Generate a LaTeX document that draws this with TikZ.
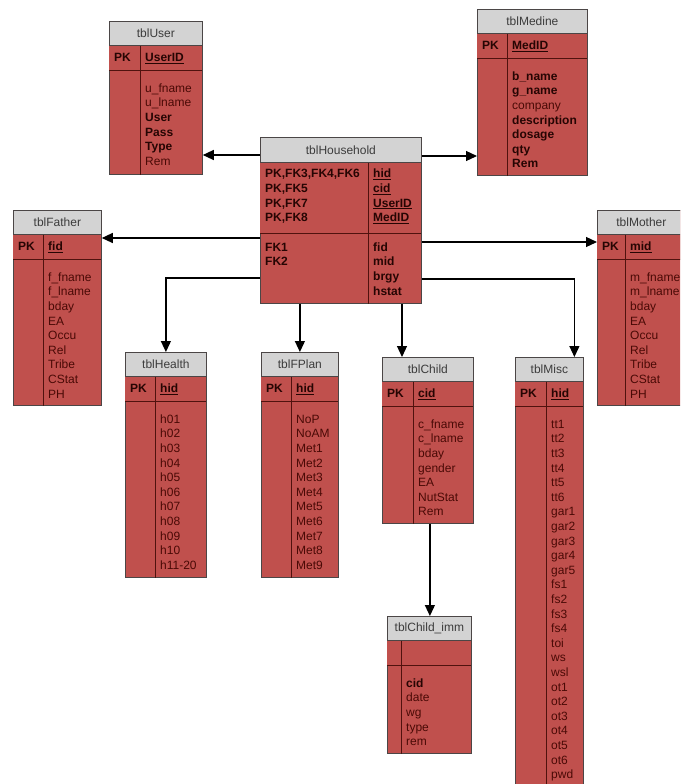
\documentclass[tikz,border=0pt]{standalone}
\usepackage{fontspec}
\setmainfont{Liberation Sans}
\usepackage{xcolor}
\usetikzlibrary{arrows.meta}

\definecolor{tblred}{RGB}{192,80,77}
\definecolor{headgray}{RGB}{211,211,211}
\definecolor{edgegray}{RGB}{75,70,70}
\definecolor{divred}{RGB}{80,18,14}
\definecolor{fieldred}{RGB}{74,10,6}
\definecolor{keyred}{RGB}{38,5,3}
\definecolor{headtext}{RGB}{60,60,60}

\newcommand{\bfld}[1]{{\bfseries\color{keyred}#1}}

% one table: name, x, y, width, height, key column, title, key, fields
\newcommand{\dbtable}[9]{%
  \node[tablebox, minimum width=#4pt, minimum height=#5pt] (#1) at (#2,#3) {};
  \node[tablehead, minimum width=#4pt] (#1h) at (#1.north west) {#7};
  \node[pkrow, minimum width=#4pt] (#1k) at (#1h.south west) {};
  \draw[coldiv] (#1k.south west) -- (#1k.south east);
  \draw[coldiv] ([xshift=#6pt]#1k.north west) -- ([xshift=#6pt]#1.south west);
  \node[field] (#1p) at ([xshift=5pt, yshift=-16pt]#1k.north west) {\bfld{PK}};
  \node[field] (#1i) at ([xshift=#6pt+5pt, yshift=-16pt]#1k.north west) {\bfld{\underline{#8}}};
  \foreach \f [count=\i from 0] in {#9}
    \node[field] (#1f\i) at ([xshift=#6pt+5pt, yshift=-22pt-\i*14.6pt]#1k.south west) {\f};
}

\begin{document}
\begin{tikzpicture}[x=1pt, y=-1pt,
    font=\fontsize{12}{14.6}\selectfont,
    tablebox/.style={draw=edgegray, fill=tblred, anchor=north west, inner sep=0pt, line width=0.8pt},
    tablehead/.style={draw=edgegray, fill=headgray, anchor=north west, inner sep=0pt,
      minimum height=24pt, text=headtext, line width=0.8pt},
    pkrow/.style={fill=tblred, anchor=north west, inner sep=0pt, minimum height=24pt},
    coldiv/.style={draw=divred, line width=0.9pt},
    field/.style={anchor=base west, inner sep=0pt, text=fieldred},
    fkarrow/.style={draw=black, line width=1.2pt, -{Triangle[length=11pt,width=10pt]}}]
  \useasboundingbox (0,0) rectangle (680,784);
  \clip (0,0) rectangle (680,784);
  \fill[white] (0,0) rectangle (680,784);

  \dbtable{user}{109}{21}{93}{153}{31}{tblUser}{UserID}%
    {u\_fname, u\_lname, \bfld{User}, \bfld{Pass}, \bfld{Type}, Rem}
  \dbtable{med}{477}{9}{110}{166}{30}{tblMedine}{MedID}%
    {\bfld{b\_name}, \bfld{g\_name}, company, \bfld{description}, \bfld{dosage}, \bfld{qty}, \bfld{Rem}}
  \dbtable{father}{13}{210}{88}{195}{30}{tblFather}{fid}%
    {f\_fname, f\_lname, bday, EA, Occu, Rel, Tribe, CStat, PH}
  \dbtable{mother}{597}{210}{88}{195}{28}{tblMother}{mid}%
    {m\_fname, m\_lname, bday, EA, Occu, Rel, Tribe, CStat, PH}
  \dbtable{health}{125}{352}{81}{225}{30}{tblHealth}{hid}%
    {h01, h02, h03, h04, h05, h06, h07, h08, h09, h10, h11-20}
  \dbtable{fplan}{261}{352}{77}{225}{30}{tblFPlan}{hid}%
    {NoP, NoAM, Met1, Met2, Met3, Met4, Met5, Met6, Met7, Met8, Met9}
  \dbtable{child}{382}{357}{91}{166}{31}{tblChild}{cid}%
    {c\_fname, c\_lname, bday, gender, EA, NutStat, Rem}
  \dbtable{misc}{515}{357}{68}{440}{31}{tblMisc}{hid}%
    {tt1, tt2, tt3, tt4, tt5, tt6, gar1, gar2, gar3, gar4, gar5, fs1, fs2, fs3, fs4,
     toi, ws, wsl, ot1, ot2, ot3, ot4, ot5, ot6, pwd}

  % household
  \node[tablebox, minimum width=161pt, minimum height=166pt] (hh) at (260,137) {};
  \node[tablehead, minimum width=161pt, minimum height=25pt] (hhh) at (hh.north west) {tblHousehold};
  \node[pkrow, minimum width=161pt, minimum height=70pt] (hhk) at (hhh.south west) {};
  \draw[coldiv] (hhk.south west) -- (hhk.south east);
  \draw[coldiv] ([xshift=108pt]hhk.north west) -- ([xshift=108pt]hh.south west);
  \foreach \f [count=\i from 0] in {{PK,FK3,FK4,FK6}, {PK,FK5}, {PK,FK7}, {PK,FK8}}
    \node[field] (hhl\i) at ([xshift=5pt, yshift=-15pt-\i*14.6pt]hhk.north west) {\bfld{\f}};
  \foreach \f [count=\i from 0] in {hid, cid, UserID, MedID}
    \node[field] (hhr\i) at ([xshift=113pt, yshift=-15pt-\i*14.6pt]hhk.north west) {\bfld{\underline{\f}}};
  \foreach \f [count=\i from 0] in {FK1, FK2}
    \node[field] (hhm\i) at ([xshift=5pt, yshift=-18pt-\i*14.6pt]hhk.south west) {\bfld{\f}};
  \foreach \f [count=\i from 0] in {fid, mid, brgy, hstat}
    \node[field] (hhn\i) at ([xshift=113pt, yshift=-18pt-\i*14.6pt]hhk.south west) {\bfld{\f}};

  % child immunisation
  \node[tablebox, minimum width=84pt, minimum height=137pt] (imm) at (387,616) {};
  \node[tablehead, minimum width=84pt] (immh) at (imm.north west) {tblChild\_imm};
  \node[pkrow, minimum width=84pt] (immk) at (immh.south west) {};
  \draw[coldiv] (immk.south west) -- (immk.south east);
  \draw[coldiv] ([xshift=14pt]immk.north west) -- ([xshift=14pt]imm.south west);
  \foreach \f [count=\i from 0] in {\bfld{cid}, date, wg, type, rem}
    \node[field] (immf\i) at ([xshift=19pt, yshift=-22pt-\i*14.6pt]immk.south west) {\f};

  % links
  \draw[fkarrow] ([yshift=-18pt]hh.north west) coordinate (hu) -- (hu -| user.east);
  \draw[fkarrow] ([yshift=-19pt]hh.north east) coordinate (hm) -- (hm -| med.west);
  \draw[fkarrow] ([yshift=-101pt]hh.north west) coordinate (hf) -- (hf -| father.east);
  \draw[fkarrow] ([yshift=-105pt]hh.north east) coordinate (hmo) -- (hmo -| mother.west);
  \draw[fkarrow] ([yshift=-141pt]hh.north west) -| (health.north);
  \draw[fkarrow] (hh.south -| fplan.north) -- (fplan.north);
  \draw[fkarrow] ([xshift=142pt]hh.south west) coordinate (hc) -- (hc |- child.north);
  \draw[fkarrow] ([yshift=-142pt]hh.north east) -| ([xshift=25pt]misc.north);
  \draw[fkarrow] ([xshift=0.5pt]child.south -| imm.north) coordinate (ci) -- (ci |- imm.north);
\end{tikzpicture}
\end{document}
